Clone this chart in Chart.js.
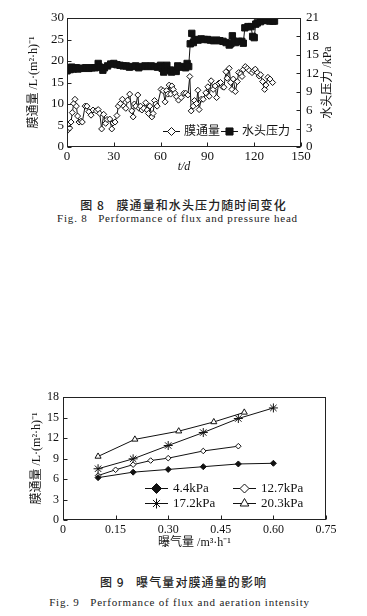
<!DOCTYPE html>
<html>
<head>
<meta charset="utf-8">
<script src="https://cdn.jsdelivr.net/npm/chart.js@4.4.1/dist/chart.umd.min.js"></script>
<style>
  body { margin: 0; background: #fff; width: 367px; height: 616px; position: relative; overflow: hidden; }
  canvas { position: absolute; left: 0; }
  .cap { position: absolute; left: 0; width: 367px; text-align: center; color: #222; white-space: pre; }
  .zh { font-family: "Noto Sans CJK SC", sans-serif; font-size: 12px; letter-spacing: 1.1px; font-weight: 500; }
  .en { font-family: "Liberation Serif", serif; font-size: 11px; letter-spacing: 0.8px; }
</style>
</head>
<body>
<canvas id="c1" width="367" height="175" style="top:0"></canvas>
<div class="cap zh" style="top:196px">图 8   膜通量和水头压力随时间变化</div>
<div class="cap en" style="top:212px;left:-6px">Fig. 8   Performance of flux and pressure head</div>

<canvas id="c2" width="367" height="170" style="top:380px"></canvas>
<div class="cap zh" style="top:573px">图 9   曝气量对膜通量的影响</div>
<div class="cap en" style="top:596px;left:-4px">Fig. 9   Performance of flux and aeration intensity</div>

<script>
// ---- Fig. 8 data: flux vs time, pressure head vs time
const fluxDays = [0.4,1.7,2.6,3.4,4.3,5.1,6,6.8,7.7,9,
  9.8,11.6,12.8,14,15.4,16.7,18.8,20,21,22.2,
  23.5,24.8,25.7,27.4,28.7,29.5,30.8,32,32.9,34.2,
  35.5,36.4,37.7,38.9,40.2,41.5,42.4,43.2,44.1,45.4,
  46.2,47.1,48,49.2,50.5,51.4,52.2,53.1,54.4,55.2,
  56.1,56.9,57.8,60.3,61.6,62.9,63.8,64.6,65.5,66.4,
  67.2,68.1,69.3,70.2,71.5,73.2,74.9,76.2,77.5,78.7,
  79.6,80.9,81.7,83,83.9,84.7,86,87.3,89,90.3,
  91.2,92.4,93.7,95,95.9,97.2,98.4,99.7,100.6,101.9,
  102.7,104,104.9,105.7,106.6,107.9,109.2,110,111.3,112.2,
  113,114.3,115.6,116.8,118.6,119.8,120.7,122,123.2,124.1,
  125.4,126.7,127.5,128.8,130.1,131.8];
const flux = [3.9,4.4,5.8,8.0,10.1,11.1,9.5,7.2,5.8,6.0,
  5.8,9.5,9.5,8.2,7.4,8.6,8.4,8.7,7.8,4.2,
  7.6,5.5,6.4,6.5,4.2,5.6,5.8,7.3,9.5,10.1,
  11.1,9.5,9.0,10.9,12.3,8.4,7.0,10.0,9.5,12.1,
  9.0,9.5,8.6,9.0,10.3,8.6,7.8,9.5,7.0,7.8,
  10.8,10.0,9.5,13.4,13.1,10.5,13.1,12.3,14.4,12.3,
  14.2,13.4,12.5,11.7,10.9,11.5,12.5,12.5,12.1,16.4,
  8.4,9.5,10.8,10.1,13.2,8.7,11.1,11.1,12.6,14.0,
  11.8,15.4,13.4,14.2,11.5,14.8,15.0,14.0,13.9,17.5,
  16.0,18.3,15.0,13.4,15.8,12.9,15.2,17.3,17.0,16.4,
  18.0,18.7,18.3,17.8,17.3,17.8,18.1,17.3,16.5,16.8,
  15.2,13.4,14.4,16.2,15.8,15.0];
const pressDays = [0,1,2,3,4,5,6,7,8,10,12,14,16,18,20,21,23,24,26,28,
  30,32,34,36,38,40,42,44,46,48,50,52,54,56,58,
  60,61,62,63,64,66,67,68,70,71,72,74,76,77,78,79,80,81,82,84,
  86,88,90,92,94,96,98,100,102,104,105,106,107,108,110,112,113,114,116,118,
  119,120,121,122,124,126,128,130,132,133];
const pressure = [12.4,12.8,12.6,13.0,12.7,12.8,12.9,12.7,12.8,12.8,12.9,12.8,12.9,12.9,13.6,13.0,12.5,12.9,13.2,13.5,
  13.6,13.4,13.3,13.2,13.2,13.0,13.1,13.2,12.9,13.1,13.2,13.1,13.2,13.1,13.0,
  13.3,12.8,12.2,13.0,13.3,12.5,12.2,12.5,12.3,13.2,13.0,13.1,12.9,13.6,13.1,16.8,18.5,17.0,17.5,17.4,
  17.6,17.5,17.5,17.4,17.3,17.4,17.3,17.2,17.0,16.6,16.8,18.1,17.2,17.0,17.2,17.2,16.9,19.4,19.6,19.6,
  18.0,17.8,20.0,20.2,20.4,20.6,20.6,20.5,20.5,20.5];

// ---- Fig. 9 data: flux vs aeration at four pressure heads
const aer44 = [0.1,0.2,0.3,0.4,0.5,0.6];
const flux44 = [6.2,7.0,7.4,7.8,8.2,8.3];
const aer127 = [0.1,0.15,0.2,0.25,0.3,0.4,0.5];
const flux127 = [6.5,7.35,8.1,8.7,9.05,10.1,10.8];
const aer172 = [0.1,0.2,0.3,0.4,0.5,0.6];
const flux172 = [7.5,8.95,10.9,12.8,14.85,16.4];
const aer203 = [0.1,0.205,0.33,0.43,0.517];
const flux203 = [9.3,11.8,13.0,14.35,15.75];

const INK = '#111';
const SERIF = '"Liberation Serif", "Noto Sans CJK SC", serif';
const pts = (xs, ys) => xs.map((x, i) => ({ x: x, y: ys[i] }));

// vertical axis title, read bottom-to-top
function sideTitle(ctx, text, x, y) {
  ctx.save();
  ctx.translate(x, y);
  ctx.rotate(-Math.PI / 2);
  ctx.font = '12px ' + SERIF;
  ctx.fillStyle = INK;
  ctx.textAlign = 'center';
  ctx.textBaseline = 'middle';
  ctx.fillText(text, 0, 0);
  ctx.restore();
}

// frame around plot area + inward tick marks + side titles
const frameTicks = {
  id: 'frameTicks',
  afterDatasetsDraw(chart, args, opts) {
    const { ctx, chartArea: a } = chart;
    const L = Math.round(a.left) + 0.5, R = Math.round(a.right) - 0.5;
    const T = Math.round(a.top) + 0.5, B = Math.round(a.bottom) - 0.5;
    ctx.save();
    ctx.strokeStyle = '#222';
    ctx.lineWidth = 1;
    ctx.strokeRect(L, T, R - L, B - T);
    ctx.beginPath();
    Object.values(chart.scales).forEach(s => {
      s.ticks.forEach(t => {
        const p = Math.round(s.getPixelForValue(t.value)) + 0.5;
        if (s.position === 'left') { ctx.moveTo(L, p); ctx.lineTo(L + 4, p); }
        else if (s.position === 'right') { ctx.moveTo(R, p); ctx.lineTo(R - 4, p); }
        else if (s.position === 'bottom') { ctx.moveTo(p, B); ctx.lineTo(p, B - 4); }
      });
    });
    ctx.stroke();
    ctx.restore();
    const midY = (a.top + a.bottom) / 2;
    if (opts.leftTitle) sideTitle(ctx, opts.leftTitle, opts.leftX, midY);
    if (opts.rightTitle) sideTitle(ctx, opts.rightTitle, opts.rightX, midY);
  }
};

// legend drawn as  -marker-  label, placed inside the plot
const lineLegend = {
  id: 'lineLegend',
  afterDraw(chart, args, opts) {
    const ctx = chart.ctx;
    ctx.save();
    ctx.font = opts.font;
    ctx.textBaseline = 'middle';
    opts.items.forEach(it => {
      const ds = chart.data.datasets[it.ds];
      ctx.strokeStyle = INK;
      ctx.lineWidth = 1;
      ctx.beginPath();
      ctx.moveTo(it.x, it.y + 0.5);
      ctx.lineTo(it.x + opts.lineLen, it.y + 0.5);
      ctx.stroke();
      ctx.fillStyle = ds.pointBackgroundColor;
      ctx.strokeStyle = INK;
      Chart.helpers.drawPoint(ctx, { pointStyle: ds.pointStyle, radius: it.r, rotation: 0, borderWidth: 1 },
        it.x + opts.lineLen / 2, it.y + 0.5);
      ctx.fillStyle = INK;
      ctx.fillText(ds.label, it.x + opts.lineLen + opts.gap, it.y + 1);
    });
    ctx.restore();
  }
};

Chart.defaults.font.family = SERIF;
Chart.defaults.color = INK;

const lineDs = (label, data, style, radius, fill, axis) => ({
  label: label,
  data: data,
  yAxisID: axis || 'y',
  borderColor: INK,
  borderWidth: 1,
  pointStyle: style,
  pointRadius: radius,
  pointBorderWidth: 1,
  pointBackgroundColor: fill,
  pointBorderColor: INK,
  tension: 0
});

const noGrid = { display: false, drawTicks: false };
const FLUX_TITLE = '膜通量 /L·(m²·h)⁻¹';

// ---------- Fig. 8
new Chart(document.getElementById('c1'), {
  type: 'line',
  data: {
    datasets: [
      lineDs('膜通量', pts(fluxDays, flux), 'rectRot', 3, '#fff'),
      lineDs('水头压力', pts(pressDays, pressure), 'rect', 4.5, INK, 'y2')
    ]
  },
  options: {
    responsive: false,
    animation: false,
    layout: { padding: { top: 18, left: 0, right: 0, bottom: 0 } },
    plugins: {
      legend: { display: false },
      tooltip: { enabled: false },
      frameTicks: { leftTitle: FLUX_TITLE, leftX: 34, rightTitle: '水头压力 /kPa', rightX: 328 },
      lineLegend: {
        font: '12px ' + SERIF, lineLen: 17, gap: 4,
        items: [ { ds: 0, x: 163, y: 131, r: 4 }, { ds: 1, x: 221, y: 131, r: 5 } ]
      }
    },
    scales: {
      x: {
        type: 'linear', min: 0, max: 150,
        grid: noGrid, border: { display: false },
        ticks: { stepSize: 30, padding: 2, autoSkip: false, font: { size: 13 } },
        title: { display: true, text: 't/d', font: { size: 12, style: 'italic' }, padding: { top: 0, bottom: 1 } },
        afterFit: s => { s.height = 28; }
      },
      y: {
        position: 'left', min: 0, max: 30,
        grid: noGrid, border: { display: false },
        ticks: { stepSize: 5, padding: 3, autoSkip: false, font: { size: 13 } },
        afterFit: s => { s.width = 67; }
      },
      y2: {
        position: 'right', min: 0, max: 21,
        grid: noGrid, border: { display: false },
        ticks: { stepSize: 3, padding: 5, autoSkip: false, font: { size: 13 } },
        afterFit: s => { s.width = 66; }
      }
    }
  },
  plugins: [frameTicks, lineLegend]
});

// ---------- Fig. 9
new Chart(document.getElementById('c2'), {
  type: 'line',
  data: {
    datasets: [
      lineDs('4.4kPa', pts(aer44, flux44), 'rectRot', 3, INK),
      lineDs('12.7kPa', pts(aer127, flux127), 'rectRot', 2.8, '#fff'),
      lineDs('17.2kPa', pts(aer172, flux172), 'star', 4.5, '#fff'),
      lineDs('20.3kPa', pts(aer203, flux203), 'triangle', 3.5, '#fff')
    ]
  },
  options: {
    responsive: false,
    animation: false,
    layout: { padding: { top: 17, left: 0, right: 41, bottom: 0 } },
    plugins: {
      legend: { display: false },
      tooltip: { enabled: false },
      frameTicks: { leftTitle: FLUX_TITLE, leftX: 37 },
      lineLegend: {
        font: '13px ' + SERIF, lineLen: 23, gap: 5,
        items: [
          { ds: 0, x: 145, y: 108, r: 5 }, { ds: 1, x: 233, y: 108, r: 4.5 },
          { ds: 2, x: 145, y: 123, r: 5 }, { ds: 3, x: 233, y: 123, r: 5 }
        ]
      }
    },
    scales: {
      x: {
        type: 'linear', min: 0, max: 0.75,
        grid: noGrid, border: { display: false },
        ticks: { stepSize: 0.15, padding: 3, autoSkip: false, font: { size: 12 }, callback: v => v === 0 ? '0' : v.toFixed(2) },
        title: { display: true, text: '曝气量 /m³·h⁻¹', font: { size: 12 }, padding: { top: 0, bottom: 0 } },
        afterFit: s => { s.height = 30; }
      },
      y: {
        position: 'left', min: 0, max: 18,
        grid: noGrid, border: { display: false },
        ticks: { stepSize: 3, padding: 4, autoSkip: false, font: { size: 12 } },
        afterFit: s => { s.width = 63; }
      }
    }
  },
  plugins: [frameTicks, lineLegend]
});
</script>
</body>
</html>
